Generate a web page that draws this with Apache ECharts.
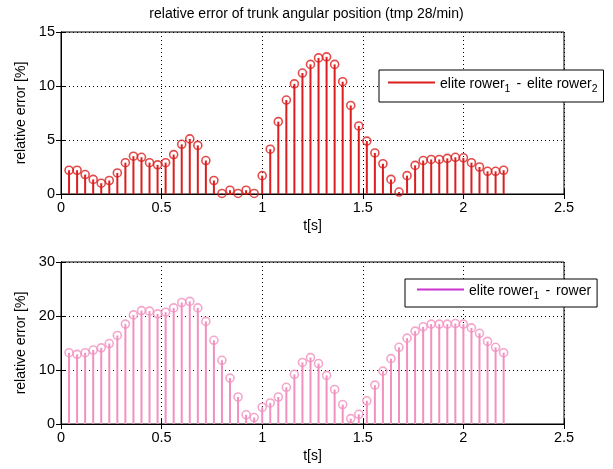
<!DOCTYPE html>
<html><head><meta charset="utf-8">
<script src="https://cdn.jsdelivr.net/npm/echarts@6/dist/echarts.min.js"></script>
<style>html,body{margin:0;padding:0;background:#fff}#c{width:613px;height:469px}</style>
</head><body><div id="c"></div>
<script>
// time samples (s)
const times = [0.04,0.08,0.12,0.16,0.20,0.24,0.28,0.32,0.36,0.40,0.44,0.48,0.52,0.56,0.60,0.64,0.68,0.72,0.76,0.80,0.84,0.88,0.92,0.96,1.00,
  1.04,1.08,1.12,1.16,1.20,1.24,1.28,1.32,1.36,1.40,1.44,1.48,1.52,1.56,1.60,1.64,1.68,1.72,1.76,1.80,1.84,1.88,1.92,1.96,2.00,2.04,2.08,2.12,2.16,2.20];
// elite rower1 - elite rower2 (%)
const errElite = [2.2,2.2,1.8,1.35,1.0,1.25,1.95,2.9,3.5,3.4,2.9,2.7,2.9,3.65,4.6,5.1,4.5,3.1,1.25,0.05,0.35,0.05,0.35,0.05,1.7,
  4.15,6.7,8.7,10.2,11.2,12.0,12.6,12.7,12.0,10.4,8.2,6.3,4.9,3.8,2.8,1.35,0.18,1.7,2.65,3.1,3.2,3.2,3.3,3.4,3.35,2.9,2.5,2.1,2.1,2.2];
// elite rower1 - rower (%)
const errRower = [13.2,12.9,13.2,13.7,14.1,14.9,16.4,18.5,20.2,21.0,20.9,20.4,20.7,21.5,22.5,22.7,21.5,19.0,15.5,11.8,8.5,5.0,1.7,1.2,3.1,
  3.9,5.0,6.8,9.2,11.4,12.3,11.2,9.0,6.4,3.6,1.0,1.8,4.3,7.2,9.8,12.1,14.2,15.9,17.2,18.0,18.5,18.5,18.5,18.6,18.5,17.8,16.8,15.3,14.2,13.2];
const xTicks = {min:0, max:2.5, interval:0.5};
const yTop = {min:0, max:15, interval:5};
const yBot = {min:0, max:30, interval:10};
const nameTop = 'elite rower1 - elite rower2';
const nameBot = 'elite rower1 - rower';

const redC = '#dc1e1e', pinkC = '#f290c0', magC = '#cc33cc';
const pairs = v => times.map((t,i)=>[t,v[i]]);
const font = 'Liberation Sans, Arial, sans-serif';
const tickFs = 14.5;
function xAxis(gi){return {type:'value',gridIndex:gi,min:xTicks.min,max:xTicks.max,interval:xTicks.interval,
  name:'t[s]',nameLocation:'middle',nameGap:25,nameTextStyle:{color:'#000',fontSize:14,fontFamily:font},
  axisLine:{lineStyle:{color:'#000'}},axisTick:{inside:true,length:5,lineStyle:{color:'#000'}},
  axisLabel:{color:'#000',fontSize:tickFs,fontFamily:font,margin:6},
  splitLine:{show:true,lineStyle:{color:'#000',type:[1,3],width:1}}};}
function xAxisTop(gi){return {type:'value',gridIndex:gi,position:'top',min:xTicks.min,max:xTicks.max,interval:xTicks.interval,
  axisLine:{lineStyle:{color:'#000'}},axisTick:{inside:true,length:5,lineStyle:{color:'#000'}},
  axisLabel:{show:false},splitLine:{show:false}};}
function yAxis(gi,r){return {type:'value',gridIndex:gi,min:r.min,max:r.max,interval:r.interval,
  name:'relative error [%]',nameLocation:'middle',nameGap:31,nameTextStyle:{color:'#000',fontSize:14,fontFamily:font},
  axisLine:{show:true,lineStyle:{color:'#000'}},axisTick:{show:true,inside:true,length:5,lineStyle:{color:'#000'}},
  axisLabel:{color:'#000',fontSize:tickFs,fontFamily:font,margin:6},
  splitLine:{show:true,lineStyle:{color:'#000',type:[1,3],width:1}}};}
function yAxisRight(gi,r){return {type:'value',gridIndex:gi,position:'right',min:r.min,max:r.max,interval:r.interval,
  axisLine:{show:true,lineStyle:{color:'#000'}},axisTick:{show:true,inside:true,length:5,lineStyle:{color:'#000'}},
  axisLabel:{show:false},splitLine:{show:false}};}
const rich = {a:{fontSize:14,fontFamily:font,color:'#000',lineHeight:17,verticalAlign:'bottom'},
              d:{fontSize:14,fontFamily:font,color:'#000',lineHeight:17,verticalAlign:'bottom',padding:[0,6,0,6]},
              s:{fontSize:10.5,fontFamily:font,color:'#000',lineHeight:17,verticalAlign:'bottom',padding:[0,0,-4,0]}};
const chart = echarts.init(document.getElementById('c'));
chart.setOption({
  animation:false,
  backgroundColor:'#fff',
  title:{text:'relative error of trunk angular position (tmp 28/min)',left:'center',top:2,
    textStyle:{fontSize:14,fontWeight:'normal',color:'#000',fontFamily:font}},
  grid:[{left:61,top:32,width:503,height:162,show:true,borderColor:'#000',borderWidth:1,backgroundColor:'#fff'},
        {left:61,top:262,width:503,height:162,show:true,borderColor:'#000',borderWidth:1,backgroundColor:'#fff'}],
  xAxis:[xAxis(0),xAxis(1),xAxisTop(0),xAxisTop(1)],
  yAxis:[yAxis(0,yTop),yAxis(1,yBot),yAxisRight(0,yTop),yAxisRight(1,yBot)],
  legend:[
    {left:379,top:70,padding:[7,6,7,9],borderColor:'#000',borderWidth:1,backgroundColor:'#fff',
     itemWidth:47,itemHeight:2,icon:'rect',
     data:[{name:nameTop,itemStyle:{color:redC}}],
     formatter:()=>'{a|elite rower}{s|1}{d|-}{a|elite rower}{s|2}',textStyle:{rich:rich}},
    {left:405,top:279,padding:[5,6,5,12],borderColor:'#000',borderWidth:1,backgroundColor:'#fff',
     itemWidth:47,itemHeight:2,icon:'rect',
     data:[{name:nameBot,itemStyle:{color:magC}}],
     formatter:()=>'{a|elite rower}{s|1}{d|-}{a|rower}',textStyle:{rich:rich}}
  ],
  series:[
    {name:nameTop,type:'bar',xAxisIndex:0,yAxisIndex:0,barWidth:2,itemStyle:{color:redC},data:pairs(errElite)},
    {name:nameTop,type:'scatter',xAxisIndex:0,yAxisIndex:0,symbol:'circle',symbolSize:8,
     itemStyle:{color:'rgba(0,0,0,0)',borderColor:redC,borderWidth:1.6},data:pairs(errElite)},
    {name:nameBot,type:'bar',xAxisIndex:1,yAxisIndex:1,barWidth:2,itemStyle:{color:pinkC},data:pairs(errRower)},
    {name:nameBot,type:'scatter',xAxisIndex:1,yAxisIndex:1,symbol:'circle',symbolSize:8,
     itemStyle:{color:'rgba(0,0,0,0)',borderColor:pinkC,borderWidth:1.6},data:pairs(errRower)}
  ]
});
</script></body></html>
